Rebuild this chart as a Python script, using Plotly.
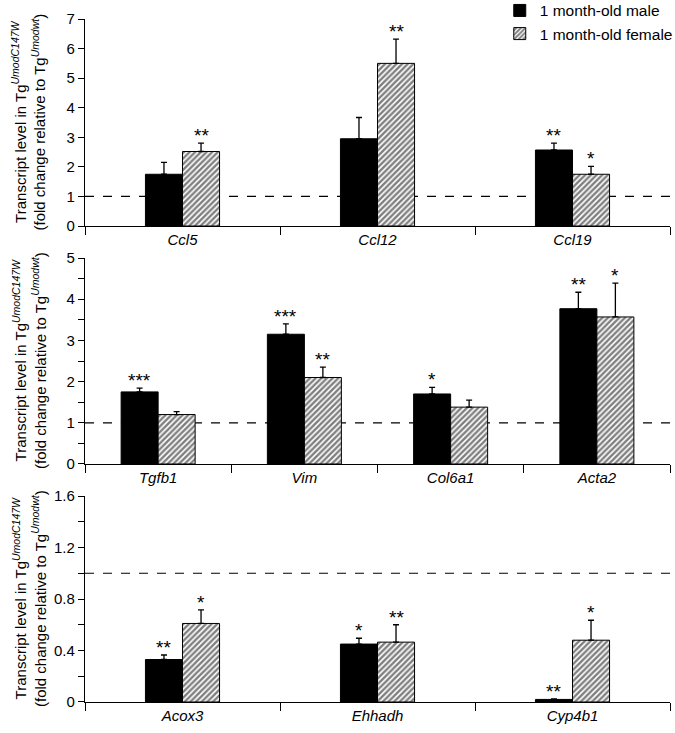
import plotly.graph_objects as go

# ---------------- data ----------------
p1_genes = ["Ccl5", "Ccl12", "Ccl19"]
p1_male = [1.75, 2.95, 2.57]
p1_male_sem = [0.40, 0.72, 0.23]
p1_female = [2.52, 5.50, 1.75]
p1_female_sem = [0.28, 0.82, 0.27]
p1_male_sig = ["", "", "**"]
p1_female_sig = ["**", "**", "*"]

p2_genes = ["Tgfb1", "Vim", "Col6a1", "Acta2"]
p2_male = [1.75, 3.15, 1.70, 3.77]
p2_male_sem = [0.09, 0.25, 0.16, 0.40]
p2_female = [1.20, 2.10, 1.38, 3.57]
p2_female_sem = [0.07, 0.25, 0.17, 0.82]
p2_male_sig = ["***", "***", "*", "**"]
p2_female_sig = ["", "**", "", "*"]

p3_genes = ["Acox3", "Ehhadh", "Cyp4b1"]
p3_male = [0.33, 0.45, 0.02]
p3_male_sem = [0.035, 0.045, 0.004]
p3_female = [0.61, 0.465, 0.48]
p3_female_sem = [0.105, 0.135, 0.155]
p3_male_sig = ["**", "*", "**"]
p3_female_sig = ["*", "**", "*"]

series_names = ["1 month-old male", "1 month-old female"]

FONT = "Liberation Sans, Arial, sans-serif"

panels = [
    dict(genes=p1_genes, male=p1_male, msem=p1_male_sem, female=p1_female, fsem=p1_female_sem,
         msig=p1_male_sig, fsig=p1_female_sig, rng=[0, 7], dtick=1, minor=None, w=0.19,
         dom=[0.6969, 1.0]),
    dict(genes=p2_genes, male=p2_male, msem=p2_male_sem, female=p2_female, fsem=p2_female_sem,
         msig=p2_male_sig, fsig=p2_female_sig, rng=[0, 5], dtick=1, minor=0.5, w=0.253,
         dom=[0.3485, 0.650]),
    dict(genes=p3_genes, male=p3_male, msem=p3_male_sem, female=p3_female, fsem=p3_female_sem,
         msig=p3_male_sig, fsig=p3_female_sig, rng=[0, 1.6], dtick=0.4, minor=0.2, w=0.19,
         dom=[0.0, 0.3016]),
]

fig = go.Figure()
annotations = []
shapes = []

for k, p in enumerate(panels):
    ax = "" if k == 0 else str(k + 1)
    xref, yref = "x" + ax, "y" + ax
    w = p["w"]
    fig.add_trace(go.Bar(
        x=p["genes"], y=p["male"], width=w, offset=-w,
        marker=dict(color="black", line=dict(color="black", width=1)),
        error_y=dict(type="data", symmetric=False, array=p["msem"],
                     arrayminus=[0] * len(p["msem"]), color="black", thickness=1.3, width=3),
        name=series_names[0], showlegend=(k == 0),
        xaxis=xref, yaxis=yref,
    ))
    fig.add_trace(go.Bar(
        x=p["genes"], y=p["female"], width=w, offset=0,
        marker=dict(color="white", line=dict(color="black", width=1),
                    pattern=dict(shape="/", fgcolor="black", bgcolor="white", size=4, solidity=0.6)),
        error_y=dict(type="data", symmetric=False, array=p["fsem"],
                     arrayminus=[0] * len(p["fsem"]), color="black", thickness=1.3, width=3),
        name=series_names[1], showlegend=(k == 0),
        xaxis=xref, yaxis=yref,
    ))
    for i in range(len(p["genes"])):
        for val, sem, sig, off in [(p["male"][i], p["msem"][i], p["msig"][i], -w / 2),
                                   (p["female"][i], p["fsem"][i], p["fsig"][i], w / 2)]:
            if sig:
                annotations.append(dict(
                    x=i + off, y=val + sem, xref=xref, yref=yref, text=sig,
                    showarrow=False, xanchor="center", yanchor="bottom", yshift=-5,
                    font=dict(family=FONT, size=19, color="black")))
    shapes.append(dict(type="line", xref=xref + " domain", yref=yref, x0=0, x1=1, y0=1, y1=1,
                       line=dict(color="black", width=1.2, dash="dash"), layer="below"))
    yaxis = dict(domain=p["dom"], range=p["rng"], dtick=p["dtick"], tick0=0, automargin=False,
                 showline=True, linecolor="black", linewidth=1.2, ticks="outside", ticklen=6,
                 tickwidth=1.2, tickcolor="black", showgrid=False, zeroline=False,
                 tickfont=dict(family=FONT, size=15, color="black"), anchor=xref, fixedrange=True)
    if p["minor"]:
        yaxis["minor"] = dict(dtick=p["minor"], tick0=0, ticks="outside", ticklen=6,
                              tickwidth=1.2, tickcolor="black", showgrid=False)
    xaxis = dict(domain=[0, 1], range=[-0.5, len(p["genes"]) - 0.5], type="category",
                 automargin=False,
                 showline=True, linecolor="black", linewidth=1.2, ticks="outside",
                 tickson="boundaries", ticklen=8, tickwidth=1.2, tickcolor="black",
                 showgrid=False, anchor=yref, fixedrange=True,
                 tickfont=dict(family=FONT, size=15, color="black", style="italic"))
    fig.update_layout(**{"yaxis" + ax: yaxis, "xaxis" + ax: xaxis})
    ymid = (p["dom"][0] + p["dom"][1]) / 2
    annotations.append(dict(
        x=-0.0957, y=ymid, xref="paper", yref="paper", textangle=-90,
        text="Transcript level in Tg<sup><i>UmodC147W</i></sup><br>(fold change relative to Tg<sup><i>Umodwt</i></sup>)",
        showarrow=False, xanchor="center", yanchor="middle",
        font=dict(family=FONT, size=15, color="black")))

fig.update_layout(
    width=675, height=733,
    margin=dict(l=85, r=5, t=19, b=31, autoexpand=False),
    plot_bgcolor="white", paper_bgcolor="white",
    showlegend=True,
    legend=dict(x=0.709, y=1.0368, xanchor="left", yanchor="top", bgcolor="rgba(0,0,0,0)",
                font=dict(family=FONT, size=15.5, color="black"), tracegroupgap=0,
                itemclick=False, itemdoubleclick=False),
    annotations=annotations, shapes=shapes,
    font=dict(family=FONT, color="black"),
)

fig.write_html("out.html", config={"displayModeBar": False},
               post_script="document.body.style.margin='0';")
